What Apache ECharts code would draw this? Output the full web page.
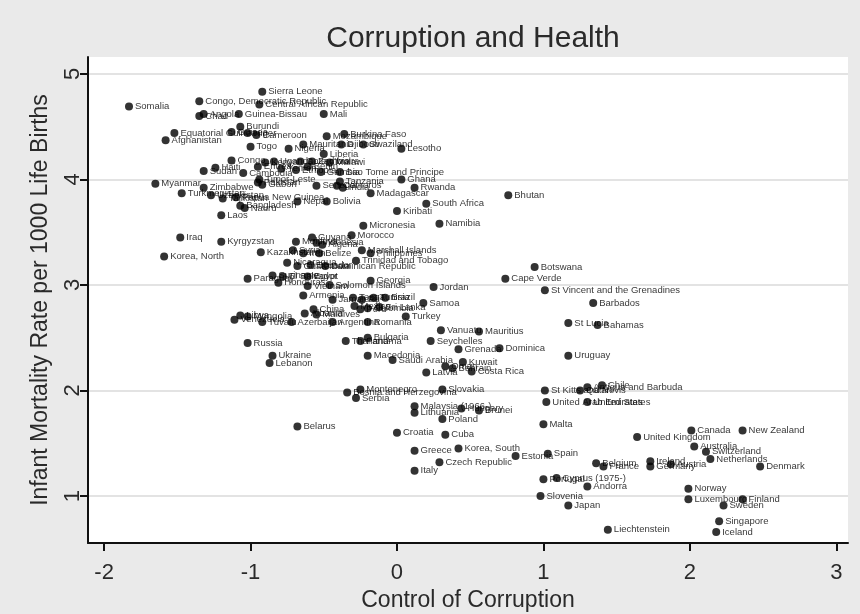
<!DOCTYPE html>
<html>
<head>
<meta charset="utf-8">
<script src="https://cdn.jsdelivr.net/npm/echarts@6/dist/echarts.min.js"></script>
<style>
    html, body { margin: 0; padding: 0; background: #eaeaea; }
    #chart { width: 860px; height: 614px; }
</style>
</head>
<body>
<div id="chart"></div>
<script>
    // values
    const countries = [
        'Somalia','Sierra Leone','Congo, Democratic Republic','Central African Republic','Angola','Chad','Guinea-Bissau','Mali',
        'Burundi','Equatorial Guinea','Afghanistan','Guinea','Niger','Cameroon','Burkina Faso','Mozambique',
        'Togo','Nigeria','Mauritania','Djibouti','Swaziland','Lesotho','Liberia','Congo',
        'Uganda','Zambia','Malawi','Kenya','Cote d\'Ivoire','Sudan','Haiti','Cambodia',
        'Eritrea','Yemen','Ethiopia','Benin','Gambia','Sao Tome and Principe','Ghana','Rwanda',
        'Tanzania','Senegal','Comoros','India','Madagascar','South Africa','Kiribati','Namibia',
        'Nepal','Bolivia','Bhutan','Timor-Leste','Gabon','Pakistan','Myanmar','Zimbabwe',
        'Turkmenistan','Uzbekistan','Tajikistan','Papua New Guinea','Bangladesh','Nauru','Laos','Micronesia',
        'Morocco','Guyana','Moldova','Algeria','Indonesia','Marshall Islands','Philippines','Iraq',
        'Kyrgyzstan','Korea, North','Kazakhstan','Syria','Iran','Belize','Trinidad and Tobago','Nicaragua',
        'Guatemala','Ecuador','Dominican Republic','Paraguay','Suriname','El Salvador','Honduras','Egypt',
        'Vietnam','Solomon Islands','Georgia','Jordan','Armenia','Jamaica','Tonga','Fiji',
        'Tunisia','Brazil','Samoa','Mexico','Peru','Colombia','Sri Lanka','China',
        'Albania','Maldives','Turkey','Libya','Venezuela','Mongolia','Tuvalu','Azerbaijan',
        'Argentina','Romania','Russia','Ukraine','Lebanon','Thailand','Bulgaria','Panama',
        'Vanuatu','Mauritius','Seychelles','Grenada','Dominica','Macedonia','Saudi Arabia','Kuwait',
        'Oman','Bahrain','Latvia','Costa Rica','Slovakia','Montenegro','Bosnia and Herzegovina','Serbia',
        'Malaysia (1966-)','Lithuania','Hungary','Brunei','Poland','Belarus','Croatia','Cuba',
        'Greece','Korea, South','Czech Republic','Italy','Estonia','Spain','Malta','United Arab Emirates',
        'United States','St Kitts and Nevis','Qatar','Chile','Antigua and Barbuda','Uruguay','St Lucia','Bahamas',
        'Barbados','St Vincent and the Grenadines','Cape Verde','Botswana','United Kingdom','Canada','New Zealand','Australia',
        'Switzerland','Netherlands','Denmark','Ireland','Austria','Germany','Belgium','France',
        'Portugal','Cyprus (1975-)','Andorra','Slovenia','Japan','Liechtenstein','Norway','Luxembourg',
        'Finland','Sweden','Singapore','Iceland'
    ];
    const control = [
        -1.83,-0.92,-1.35,-0.94,-1.32,-1.35,-1.08,-0.50,
        -1.07,-1.52,-1.58,-1.13,-1.02,-0.96,-0.36,-0.48,
        -1.00,-0.74,-0.64,-0.38,-0.23,0.03,-0.50,-1.13,
        -0.84,-0.58,-0.46,-0.90,-0.66,-1.32,-1.24,-1.05,
        -0.95,-0.79,-0.69,-0.61,-0.52,-0.39,0.03,0.12,
        -0.39,-0.55,-0.41,-0.37,-0.18,0.20,0.00,0.29,
        -0.68,-0.48,0.76,-0.94,-0.92,-0.95,-1.65,-1.32,
        -1.47,-1.27,-1.19,-1.10,-1.07,-1.04,-1.20,-0.23,
        -0.31,-0.58,-0.69,-0.51,-0.55,-0.24,-0.18,-1.48,
        -1.20,-1.59,-0.93,-0.71,-0.64,-0.53,-0.28,-0.75,
        -0.68,-0.59,-0.49,-1.02,-0.85,-0.78,-0.81,-0.61,
        -0.61,-0.46,-0.18,0.25,-0.64,-0.44,-0.30,-0.24,
        -0.16,-0.08,0.18,-0.29,-0.25,-0.20,-0.12,-0.57,
        -0.63,-0.55,0.06,-1.07,-1.11,-1.02,-0.92,-0.72,
        -0.44,-0.20,-1.02,-0.85,-0.87,-0.35,-0.20,-0.25,
        0.30,0.56,0.23,0.42,0.70,-0.20,-0.03,0.45,
        0.33,0.38,0.20,0.51,0.31,-0.25,-0.34,-0.28,
        0.12,0.12,0.44,0.56,0.31,-0.68,0.00,0.33,
        0.12,0.42,0.29,0.12,0.81,1.03,1.00,1.02,
        1.30,1.01,1.25,1.40,1.30,1.17,1.17,1.37,
        1.34,1.01,0.74,0.94,1.64,2.01,2.36,2.03,
        2.11,2.14,2.48,1.73,1.87,1.73,1.36,1.41,
        1.00,1.09,1.30,0.98,1.17,1.44,1.99,1.99,
        2.36,2.23,2.20,2.18
    ];
    const mortality = [
        4.69,4.83,4.74,4.71,4.62,4.60,4.62,4.62,
        4.50,4.44,4.37,4.45,4.44,4.42,4.43,4.41,
        4.31,4.29,4.33,4.33,4.33,4.29,4.24,4.18,
        4.17,4.17,4.16,4.16,4.17,4.08,4.11,4.06,
        4.12,4.10,4.09,4.12,4.07,4.07,4.00,3.92,
        3.98,3.94,3.94,3.92,3.87,3.77,3.70,3.58,
        3.79,3.79,3.85,4.00,3.95,3.97,3.96,3.92,
        3.87,3.85,3.82,3.83,3.75,3.73,3.66,3.56,
        3.47,3.45,3.41,3.38,3.40,3.33,3.30,3.45,
        3.41,3.27,3.31,3.33,3.30,3.30,3.23,3.21,
        3.18,3.19,3.18,3.06,3.09,3.08,3.02,3.08,
        2.99,3.00,3.04,2.98,2.90,2.86,2.88,2.86,
        2.88,2.88,2.83,2.80,2.77,2.78,2.79,2.77,
        2.73,2.72,2.70,2.71,2.67,2.70,2.65,2.65,
        2.65,2.65,2.45,2.33,2.26,2.47,2.50,2.47,
        2.57,2.56,2.47,2.39,2.40,2.33,2.29,2.27,
        2.23,2.21,2.17,2.18,2.01,2.01,1.98,1.93,
        1.85,1.79,1.83,1.81,1.73,1.66,1.60,1.58,
        1.43,1.45,1.32,1.24,1.38,1.40,1.68,1.89,
        1.89,2.00,2.00,2.05,2.03,2.33,2.64,2.62,
        2.83,2.95,3.06,3.17,1.56,1.62,1.62,1.47,
        1.42,1.35,1.28,1.33,1.30,1.28,1.31,1.28,
        1.16,1.17,1.09,1.00,0.91,0.68,1.07,0.97,
        0.97,0.91,0.76,0.66
    ];
    const xTicks = [-2, -1, 0, 1, 2, 3];
    const yTicks = [1, 2, 3, 4, 5];

    const points = countries.map((c, i) => [control[i], mortality[i], c]);

    const chart = echarts.init(document.getElementById('chart'));
    chart.setOption({
        backgroundColor: '#eaeaea',
        animation: false,
        textStyle: { fontFamily: 'Liberation Sans, Arial, sans-serif' },
        title: {
            text: 'Corruption and Health',
            left: 468,
            top: 19,
            textAlign: 'center',
            textStyle: { fontSize: 30, fontWeight: 'normal', color: '#2a2a2a' }
        },
        grid: {
            left: 88, right: 12, top: 57, bottom: 71,
            outerBoundsMode: 'none',
            show: true, backgroundColor: '#ffffff', borderWidth: 0
        },
        xAxis: {
            type: 'value',
            min: -2.11,
            max: 3.08,
            name: 'Control of Corruption',
            nameLocation: 'middle',
            nameGap: 38,
            nameTextStyle: { fontSize: 23, color: '#2a2a2a' },
            axisLine: { show: true, onZero: false, lineStyle: { color: '#111', width: 2 } },
            axisTick: { show: true, length: 8, customValues: xTicks, lineStyle: { color: '#111', width: 2 } },
            axisLabel: { customValues: xTicks, fontSize: 22, color: '#2a2a2a', margin: 19 },
            splitLine: { show: false }
        },
        yAxis: {
            type: 'value',
            min: 0.555,
            max: 5.16,
            name: 'Infant Mortality Rate per 1000 Life Births',
            nameLocation: 'middle',
            nameGap: 36,
            nameTextStyle: { fontSize: 23, color: '#2a2a2a' },
            axisLine: { show: true, onZero: false, lineStyle: { color: '#111', width: 2 } },
            axisTick: { show: true, length: 8, customValues: yTicks, lineStyle: { color: '#111', width: 2 } },
            axisLabel: { customValues: yTicks, rotate: 90, fontSize: 22, color: '#2a2a2a', margin: 4 },
            splitLine: { show: true, lineStyle: { color: '#e3e3e3', width: 2 } }
        },
        series: [{
            type: 'scatter',
            data: points,
            symbolSize: 8,
            itemStyle: { color: '#000' },
            label: {
                show: true,
                position: 'right',
                distance: 2,
                fontSize: 9.5,
                color: '#000',
                formatter: p => p.data[2]
            },
            labelLayout: { hideOverlap: false }
        }]
    });
</script>
</body>
</html>
